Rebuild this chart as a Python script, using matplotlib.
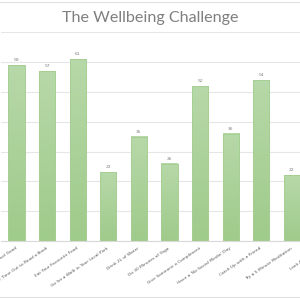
import matplotlib.pyplot as plt
import numpy as np
from matplotlib.colors import LinearSegmentedColormap
from matplotlib.lines import Line2D

challenges = [
    "Do Something That Makes You Feel Good",
    "Take Time Out to Read a Book",
    "Eat Your Favourite Food",
    "Go for a Walk in Your Local Park",
    "Drink 2L of Water",
    "Do 30 Minutes of Yoga",
    "Give Someone a Compliment",
    "Have a 'No Social Media' Day",
    "Catch Up with a Friend",
    "Try a 5 Minute Meditation",
    "Look After a Plant",
]
counts = [59, 57, 61, 23, 35, 26, 52, 36, 54, 22]

W = 300.0
fig = plt.figure(figsize=(3, 3), dpi=100)
# plot area is wider than the picture, as in the cropped screenshot
step = 30.6
left_px = 16.5 - step / 2
ax = fig.add_axes([left_px / W, 59 / W, len(challenges) * step / W, 208.6 / W])

green = LinearSegmentedColormap.from_list("g", ["#9fcb8b", "#b7d8a8"])
grad = np.linspace(0, 1, 100).reshape(-1, 1)
bw = 0.53
for i, v in enumerate(counts):
    ax.imshow(grad, extent=[i - bw / 2, i + bw / 2, 0, v], origin="lower",
              aspect="auto", cmap=green, zorder=2)
    ax.text(i, v + 1.0, str(v), ha="center", va="bottom", fontsize=3.2,
            color="#7f7f7f")
ax.bar(range(len(counts)), counts, width=bw, fill=False, edgecolor="#a6cf93",
       linewidth=0.7, zorder=3)

ax.set_xlim(-0.5, len(challenges) - 0.5)
ax.set_ylim(0, 70)
ax.set_yticks(range(0, 71, 10))
ax.set_yticklabels([])
ax.tick_params(axis="y", length=0)
ax.grid(axis="y", color="#e6e6e6", linewidth=0.8, zorder=0)
ax.set_axisbelow(True)
for s in ["top", "left", "right"]:
    ax.spines[s].set_visible(False)
ax.spines["bottom"].set_color("#d9d9d9")
ax.spines["bottom"].set_linewidth(0.8)

ax.set_xticks(range(len(challenges)))
ax.set_xticklabels(challenges, rotation=34, ha="right", va="center",
                   rotation_mode="anchor", fontsize=3.2, color="#595959")
ax.tick_params(axis="x", length=0, pad=5)

fig.text(0.5, 1 - 18 / W, "The Wellbeing Challenge", ha="center", va="center",
         fontsize=11.6, color="#7f7f7f", family="Lato")
for y in [1.5, 297]:
    fig.add_artist(Line2D([0, 1], [1 - y / W] * 2, transform=fig.transFigure,
                          color="#e0e0e0", linewidth=0.8))

fig.savefig("out.png", dpi=100, facecolor="white")
